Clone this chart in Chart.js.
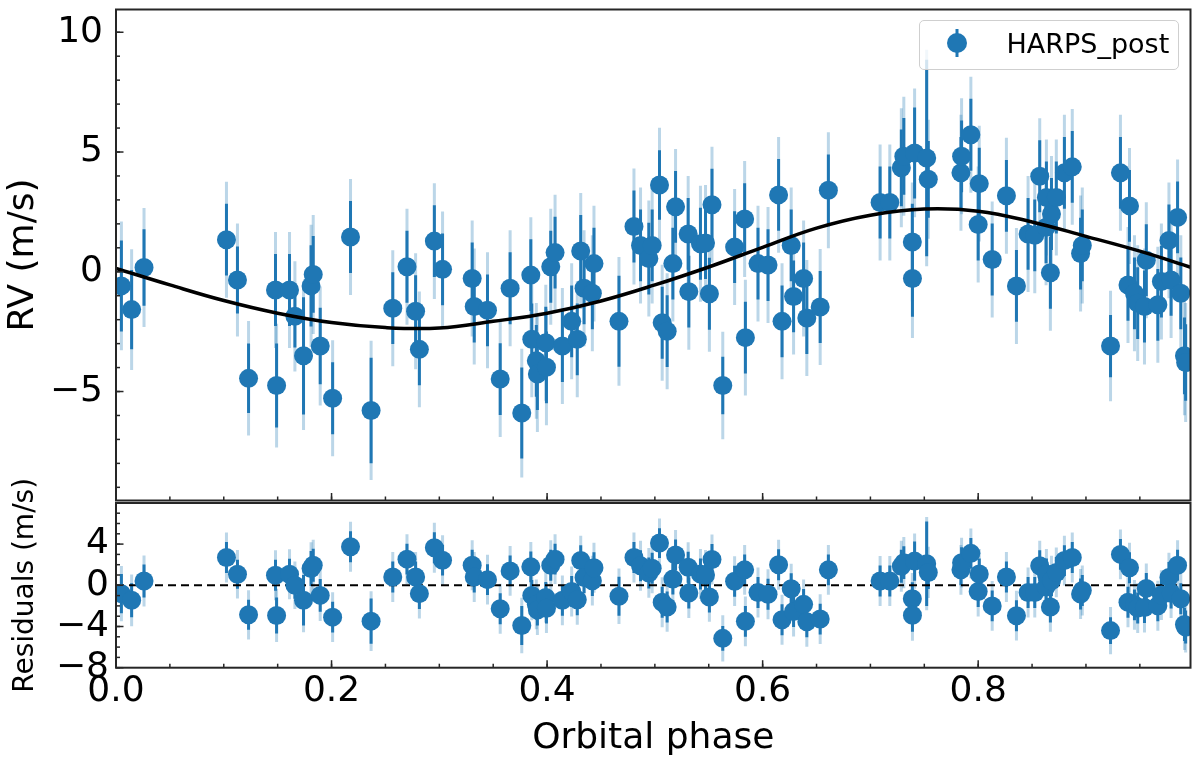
<!DOCTYPE html>
<html>
<head>
<meta charset="utf-8">
<title>HARPS_post radial velocities vs orbital phase</title>
<script src="https://cdn.jsdelivr.net/npm/chart.js@4.4.0/dist/chart.umd.min.js"></script>
<style>
  html, body { margin: 0; padding: 0; background: #fff; }
  #wrap { position: relative; width: 1200px; height: 766px; overflow: hidden; }
  canvas { position: absolute; left: 0; }
  #rvChart { top: 0; }
  #resChart { top: 440px; }
  #legend {
    position: absolute; left: 919px; top: 20px; width: 260px; height: 50px;
    box-sizing: border-box; border: 1.5px solid #cfcfcf; border-radius: 5px;
    background: rgba(255, 255, 255, 0.8); z-index: 5;
    font-family: 'DejaVu Sans', sans-serif; font-size: 27px; color: #000;
  }
  #legend canvas { position: absolute; left: 25.5px; top: 6.5px; }
  #legend span { position: absolute; left: 86.5px; top: 9px; line-height: 27px; white-space: nowrap; }
</style>
</head>
<body>
<div id="wrap">
  <canvas id="rvChart" width="1200" height="510"></canvas>
  <canvas id="resChart" width="1200" height="326"></canvas>
  <div id="legend"></div>
</div>
<script>
// values
const phase = [
  0.005, 0.0145, 0.026, 0.1025, 0.1127, 0.123, 0.148, 0.149, 0.161, 0.166,
  0.174, 0.181, 0.183, 0.1895, 0.201, 0.2176, 0.2367, 0.2568, 0.270, 0.278,
  0.2815, 0.2954, 0.303, 0.3305, 0.3324, 0.3447, 0.3565, 0.3657, 0.3765, 0.3849,
  0.3858, 0.390, 0.391, 0.3988, 0.3994, 0.4034, 0.4074, 0.4142, 0.4228, 0.428,
  0.4312, 0.4343, 0.442, 0.4435, 0.4667, 0.4806, 0.4867, 0.4944, 0.4975, 0.5043,
  0.5068, 0.5114, 0.5167, 0.5192, 0.5309, 0.5315, 0.5423, 0.547, 0.5506, 0.553,
  0.563, 0.574, 0.5833, 0.584, 0.5957, 0.605, 0.6148, 0.618, 0.6265, 0.6287,
  0.638, 0.641, 0.6534, 0.661, 0.709, 0.718, 0.7287, 0.731, 0.7389, 0.739,
  0.741, 0.7522, 0.7537, 0.784, 0.7846, 0.7932, 0.800, 0.801, 0.813, 0.8262,
  0.8355, 0.8463, 0.8525, 0.8571, 0.863, 0.8633, 0.867, 0.868, 0.8725, 0.880,
  0.8873, 0.895, 0.8966, 0.9228, 0.932, 0.939, 0.9404, 0.945, 0.948, 0.9543,
  0.956, 0.9667, 0.970, 0.977, 0.979, 0.985, 0.988, 0.9914, 0.9925
];
const rv = [
  -0.59, -1.58, 0.18, 1.34, -0.34, -4.45, -0.76, -4.75, -0.76, -1.86,
  -3.51, -0.59, -0.11, -3.10, -5.28, 1.45, -5.79, -1.52, 0.21, -1.65,
  -3.24, 1.28, 0.10, -0.28, -1.45, -1.61, -4.48, -0.69, -5.90, -0.14,
  -2.82, -3.72, -4.27, -2.96, -3.99, 0.21, 0.80, -3.10, -2.07, -2.82,
  0.87, -0.69, -0.90, 0.34, -2.07, 1.89, 1.10, 0.55, 1.10, 3.62,
  -2.13, -2.48, 0.34, 2.71, 1.58, -0.83, 1.17, 1.20, -0.92, 2.80,
  -4.75, 1.03, 2.20, -2.75, 0.34, 0.28, 3.21, -2.07, 1.10, -1.03,
  -0.28, -1.93, -1.47, 3.40, 2.89, 2.89, 4.34, 4.82, 1.24, -0.28,
  4.96, 4.75, 3.86, 4.13, 4.82, 5.72, 1.97, 3.68, 0.51, 3.17,
  -0.59, 1.58, 1.52, 3.99, 1.86, 3.10, -0.04, 2.41, 3.10, 4.13,
  4.38, 0.76, 1.10, -3.10, 4.13, -0.55, 2.75, -0.90, -1.31, -1.45,
  0.48, -1.38, -0.41, 1.31, -0.34, 2.27, -0.90, -3.51, -3.79
];
const residual = [
  -0.81, -1.46, 0.42, 2.70, 1.07, -2.86, 0.98, -2.93, 1.07, 0.00,
  -1.46, 1.63, 1.95, -0.98, -3.09, 3.74, -3.48, 0.81, 2.54, 0.81,
  -0.81, 3.64, 2.44, 1.95, 0.81, 0.55, -2.28, 1.40, -3.90, 1.79,
  -0.98, -1.85, -2.40, -1.19, -2.22, 1.95, 2.54, -1.46, -0.60, -1.40,
  2.40, 0.75, 0.45, 1.70, -1.06, 2.70, 1.90, 1.20, 1.65, 4.10,
  -1.65, -2.10, 0.60, 2.95, 1.75, -0.75, 1.10, 1.00, -1.13, 2.50,
  -5.15, 0.40, 1.50, -3.50, -0.70, -0.87, 2.00, -3.35, -0.33, -2.55,
  -1.85, -3.55, -3.28, 1.50, 0.42, 0.42, 1.85, 2.20, -1.30, -2.90,
  2.35, 2.10, 1.25, 1.50, 2.20, 3.10, -0.60, 1.10, -2.00, 0.80,
  -2.95, -0.70, -0.70, 1.90, -0.15, 1.10, -2.10, 0.45, 1.25, 2.40,
  2.70, -0.85, -0.50, -4.40, 3.00, -1.65, 1.70, -1.90, -2.20, -2.15,
  -0.30, -1.98, -0.95, 0.75, -0.75, 1.95, -1.30, -3.80, -4.05
];
const rvErr = [
  1.9, 1.65, 1.6, 1.5, 1.4, 1.45, 1.5, 1.75, 1.5, 1.3,
  2.45, 1.7, 1.6, 1.6, 1.5, 1.5, 2.2, 1.5, 1.5, 1.5,
  1.5, 1.5, 1.5, 1.5, 1.5, 1.5, 1.5, 1.5, 1.9, 1.5,
  1.5, 1.5, 1.5, 1.5, 1.5, 1.5, 1.5, 1.5, 1.5, 1.5,
  1.5, 1.5, 1.5, 1.5, 1.9, 1.5, 1.5, 1.5, 1.5, 1.45,
  1.5, 1.5, 1.5, 1.5, 1.5, 1.5, 1.5, 1.5, 1.5, 1.5,
  1.2, 1.5, 1.5, 1.5, 1.5, 1.5, 1.5, 1.5, 1.5, 1.5,
  1.5, 1.5, 1.5, 1.5, 1.5, 1.5, 1.6, 1.6, 1.6, 1.6,
  1.9, 4.1, 1.6, 1.5, 1.5, 1.5, 1.5, 1.5, 1.5, 1.5,
  1.5, 1.5, 1.5, 1.5, 1.5, 1.5, 1.5, 1.5, 1.5, 1.5,
  1.5, 1.5, 1.5, 1.3, 1.5, 1.5, 1.5, 1.5, 1.5, 1.5,
  1.5, 1.5, 1.5, 1.5, 1.5, 1.5, 1.5, 1.6, 1.6
];
const jitter = 1.9; // added in quadrature for the pale outer bars

const modelPhase = [0, 0.05, 0.10, 0.15, 0.20, 0.25, 0.30, 0.35, 0.40, 0.45, 0.50,
                    0.55, 0.60, 0.65, 0.70, 0.75, 0.80, 0.85, 0.90, 0.95, 1.00];
const modelRV = [0.14, -0.55, -1.20, -1.73, -2.12, -2.33, -2.35, -2.07, -1.73, -1.22, -0.55,
                 0.20, 1.02, 1.82, 2.36, 2.62, 2.53, 2.08, 1.48, 0.86, 0.15];

const xTicks = [0, 0.2, 0.4, 0.6, 0.8];
const rvTicks = [-5, 0, 5, 10];
const resTicks = [-8, -4, 0, 4];

const BLUE = '#1f77b4';
const PALE = 'rgba(31, 119, 180, 0.3)';
const INK = '#262626';
const X_MAX = 0.997;

Chart.defaults.font.family = "'DejaVu Sans', sans-serif";
Chart.defaults.color = '#000';

const signed = v => (v < 0 ? '\u2212' + Math.abs(v) : String(v));

function errorBars(xs, ys, errs) {
  return {
    id: 'errorBars',
    beforeDatasetsDraw(chart) {
      const {ctx, chartArea: a, scales: {x, y}} = chart;
      const bar = (i, e) => {
        const px = x.getPixelForValue(xs[i]);
        ctx.beginPath();
        ctx.moveTo(px, y.getPixelForValue(ys[i] - e));
        ctx.lineTo(px, y.getPixelForValue(ys[i] + e));
        ctx.stroke();
      };
      ctx.save();
      ctx.beginPath();
      ctx.rect(a.left, a.top, a.right - a.left, a.bottom - a.top);
      ctx.clip();
      ctx.lineWidth = 3;
      ctx.strokeStyle = PALE;
      xs.forEach((_, i) => bar(i, Math.hypot(errs[i], jitter)));
      ctx.strokeStyle = BLUE;
      xs.forEach((_, i) => bar(i, errs[i]));
      ctx.restore();
    }
  };
}

// box around the axes plus inward major/minor ticks on the bottom and left edges
function axesFrame(xMajor, xStep, yMajor, yStep) {
  const steps = (scale, step) => {
    const out = [];
    for (let k = Math.ceil(scale.min / step - 1e-9); k * step <= scale.max + 1e-9; k++) out.push(k * step);
    return out;
  };
  return {
    id: 'axesFrame',
    afterDatasetsDraw(chart) {
      const {ctx, chartArea: a, scales: {x, y}} = chart;
      const seg = (x1, y1, x2, y2) => { ctx.beginPath(); ctx.moveTo(x1, y1); ctx.lineTo(x2, y2); ctx.stroke(); };
      ctx.save();
      ctx.strokeStyle = INK;
      ctx.lineWidth = 1.5;
      steps(x, xStep).forEach(v => { const p = x.getPixelForValue(v); seg(p, a.bottom, p, a.bottom - 4); });
      xMajor.forEach(v => { const p = x.getPixelForValue(v); seg(p, a.bottom, p, a.bottom - 7.5); });
      steps(y, yStep).forEach(v => { const p = y.getPixelForValue(v); seg(a.left, p, a.left + 4, p); });
      yMajor.forEach(v => { const p = y.getPixelForValue(v); seg(a.left, p, a.left + 7.5, p); });
      ctx.lineWidth = 2;
      ctx.strokeRect(a.left, a.top, a.right - a.left, a.bottom - a.top);
      ctx.restore();
    }
  };
}

const fixTicks = list => scale => { scale.ticks = list.map(v => ({value: v})); };
// fixed axis sizes, and no extra room for labels that stick out past the ends
const fitY = width => s => { s.width = width; s.paddingTop = 0; s.paddingBottom = 0; };
const fitX = height => s => { s.height = height; s.paddingLeft = 0; s.paddingRight = 0; };

const rvChart = new Chart(document.getElementById('rvChart'), {
  type: 'scatter',
  data: {
    datasets: [
      {
        label: 'HARPS_post',
        data: phase.map((p, i) => ({x: p, y: rv[i]})),
        backgroundColor: BLUE,
        borderWidth: 0,
        pointRadius: 9.5,
        pointHoverRadius: 9.5,
        clip: 0,
        order: 2
      },
      {
        label: 'model',
        type: 'line',
        data: modelPhase.map((p, i) => ({x: p, y: modelRV[i]})),
        borderColor: '#000',
        borderWidth: 3.5,
        pointRadius: 0,
        tension: 0.4,
        fill: false,
        clip: 0,
        order: 1
      }
    ]
  },
  options: {
    responsive: false,
    animation: false,
    events: [],
    layout: { padding: { left: 0, right: 9, top: 7, bottom: 7 } },
    scales: {
      x: { type: 'linear', min: 0, max: X_MAX, display: false, afterBuildTicks: fixTicks(xTicks) },
      y: {
        min: -9.55, max: 10.95,
        afterBuildTicks: fixTicks(rvTicks),
        afterFit: fitY(116),
        grid: { display: false, drawTicks: false },
        border: { display: false },
        ticks: { font: { size: 36 }, padding: 13, color: '#000', callback: v => signed(v) },
        title: { display: true, text: 'RV (m/s)', font: { size: 36 }, color: '#000', padding: { top: 2, bottom: 0 } }
      }
    },
    plugins: { legend: { display: false }, tooltip: { enabled: false } }
  },
  plugins: [errorBars(phase, rv, rvErr), axesFrame(xTicks, 0.05, rvTicks, 1)]
});

new Chart(document.getElementById('resChart'), {
  type: 'scatter',
  data: {
    datasets: [
      {
        label: 'HARPS_post',
        data: phase.map((p, i) => ({x: p, y: residual[i]})),
        backgroundColor: BLUE,
        borderWidth: 0,
        pointRadius: 9.5,
        pointHoverRadius: 9.5,
        clip: 0,
        order: 1
      },
      {
        label: 'zero',
        type: 'line',
        data: [{x: 0, y: 0}, {x: X_MAX, y: 0}],
        borderColor: '#000',
        borderWidth: 2,
        borderDash: [8, 5],
        pointRadius: 0,
        fill: false,
        order: 3
      }
    ]
  },
  options: {
    responsive: false,
    animation: false,
    events: [],
    layout: { padding: { left: 0, right: 9, top: 63, bottom: 0 } },
    scales: {
      x: {
        type: 'linear', min: 0, max: X_MAX,
        afterBuildTicks: fixTicks(xTicks),
        afterFit: fitX(98.3),
        grid: { display: false, drawTicks: false },
        border: { display: false },
        ticks: { font: { size: 36 }, padding: 2, color: '#000', maxRotation: 0, callback: v => v.toFixed(1) },
        title: { display: true, text: 'Orbital phase', font: { size: 36 }, color: '#000', padding: { top: 0, bottom: 6 } }
      },
      y: {
        min: -8, max: 7.99,
        afterBuildTicks: fixTicks(resTicks),
        afterFit: fitY(116),
        grid: { display: false, drawTicks: false },
        border: { display: false },
        ticks: { font: { size: 36 }, padding: 7, color: '#000', callback: v => signed(v) },
        title: { display: true, text: 'Residuals (m/s)', font: { size: 28 }, color: '#000', padding: { top: 9, bottom: 0 } }
      }
    },
    plugins: { legend: { display: false }, tooltip: { enabled: false } }
  },
  plugins: [errorBars(phase, residual, rvErr), axesFrame(xTicks, 0.05, resTicks, 1)]
});

// html legend built from the top chart's own legend items
const legendBox = document.getElementById('legend');
Chart.defaults.plugins.legend.labels.generateLabels(rvChart)
  .filter(item => item.datasetIndex === 0)
  .forEach(item => {
    const mark = document.createElement('canvas');
    mark.width = 22; mark.height = 30;
    const g = mark.getContext('2d');
    g.strokeStyle = BLUE; g.lineWidth = 3;
    g.beginPath(); g.moveTo(11, 1); g.lineTo(11, 29); g.stroke();
    g.fillStyle = BLUE;
    g.beginPath(); g.arc(11, 15, 10, 0, Math.PI * 2); g.fill();
    const text = document.createElement('span');
    text.textContent = item.text;
    legendBox.appendChild(mark);
    legendBox.appendChild(text);
  });
</script>
</body>
</html>
